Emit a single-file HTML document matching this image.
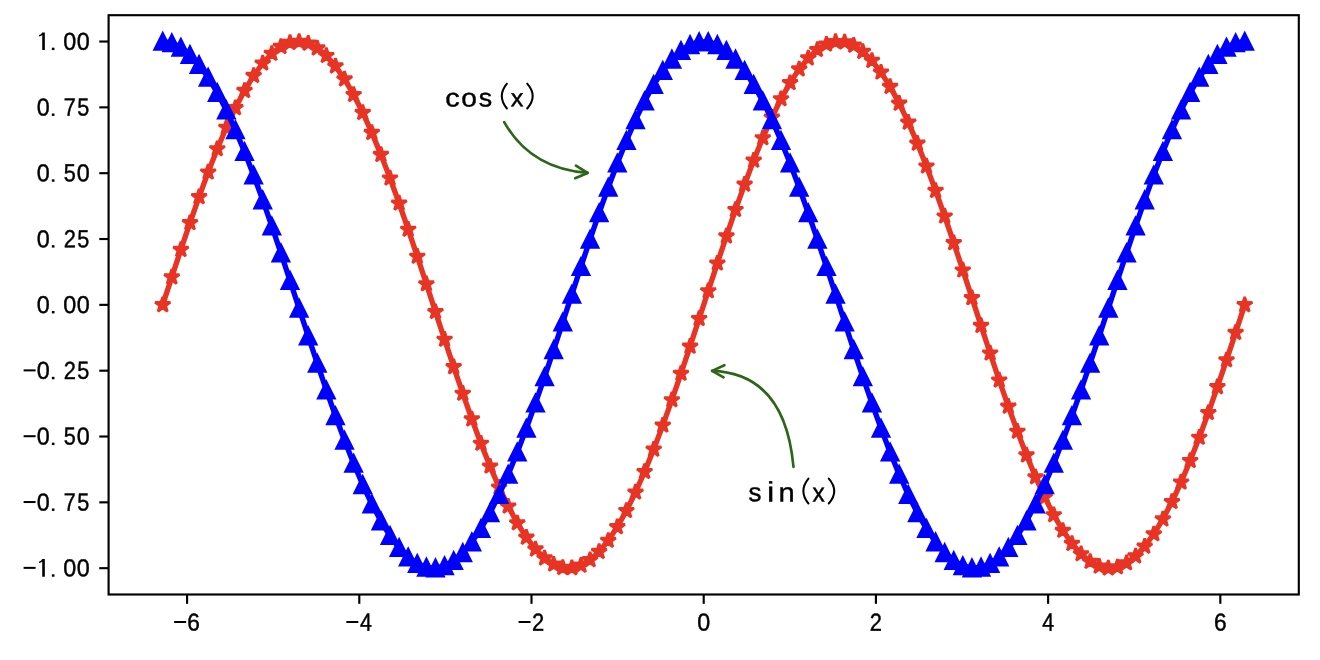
<!DOCTYPE html><html><head><meta charset="utf-8"><title>sin and cos</title><style>html,body{margin:0;padding:0;background:#fff;overflow:hidden}svg{display:block}text{font-family:"Liberation Sans",sans-serif}</style></head><body>
<svg style="will-change:transform" width="1320" height="660" viewBox="0 0 1320 660">
<rect width="1320" height="660" fill="#fff"/>
<defs>
<path id="st" d="M0.000,-8.000 L-1.796,-2.472 L-7.608,-2.472 L-2.906,0.944 L-4.702,6.472 L-0.000,3.056 L4.702,6.472 L2.906,0.944 L7.608,-2.472 L1.796,-2.472 Z" fill="#e83424" stroke="#e83424" stroke-width="2.667" stroke-linejoin="bevel"/>
<path id="tr" d="M0.000,-8.000 L-8.000,8.000 L8.000,8.000 Z" fill="#0000ff" stroke="#0000ff" stroke-width="2.667" stroke-linejoin="miter"/>
</defs>
<polyline points="162.70,304.85 171.79,277.10 180.88,249.65 189.98,222.82 199.07,196.90 208.16,172.19 217.25,148.95 226.35,127.45 235.44,107.93 244.53,90.60 253.62,75.66 262.72,63.27 271.81,53.57 280.90,46.68 289.99,42.66 299.09,41.55 308.18,43.39 317.27,48.13 326.36,55.74 335.46,66.12 344.55,79.16 353.64,94.72 362.73,112.61 371.83,132.65 380.92,154.61 390.01,178.24 399.10,203.28 408.20,229.45 417.29,256.47 426.38,284.02 435.47,311.80 444.57,339.51 453.66,366.83 462.75,393.46 471.84,419.10 480.94,443.47 490.03,466.29 499.12,487.32 508.21,506.31 517.30,523.06 526.40,537.38 535.49,549.11 544.58,558.12 553.67,564.30 562.77,567.59 571.86,567.96 580.95,565.40 590.04,559.93 599.14,551.62 608.23,540.56 617.32,526.88 626.41,510.72 635.51,492.27 644.60,471.73 653.69,449.33 662.78,425.32 671.88,399.97 680.97,373.56 690.06,346.39 699.15,318.75 708.25,290.95 717.34,263.31 726.43,236.14 735.52,209.73 744.62,184.38 753.71,160.37 762.80,137.97 771.89,117.43 780.99,98.98 790.08,82.82 799.17,69.14 808.26,58.08 817.36,49.77 826.45,44.30 835.54,41.74 844.63,42.11 853.73,45.40 862.82,51.58 871.91,60.59 881.00,72.32 890.10,86.64 899.19,103.39 908.28,122.38 917.37,143.41 926.46,166.23 935.56,190.60 944.65,216.24 953.74,242.87 962.83,270.19 971.93,297.90 981.02,325.68 990.11,353.23 999.20,380.25 1008.30,406.42 1017.39,431.46 1026.48,455.09 1035.57,477.05 1044.67,497.09 1053.76,514.98 1062.85,530.54 1071.94,543.58 1081.04,553.96 1090.13,561.57 1099.22,566.31 1108.31,568.15 1117.41,567.04 1126.50,563.02 1135.59,556.13 1144.68,546.43 1153.78,534.04 1162.87,519.10 1171.96,501.77 1181.05,482.25 1190.15,460.75 1199.24,437.51 1208.33,412.80 1217.42,386.88 1226.52,360.05 1235.61,332.60 1244.70,304.85" fill="none" stroke="#e83424" stroke-width="5.333" stroke-linejoin="round" stroke-linecap="square"/>
<g><use href="#st" x="162.70" y="304.85"/><use href="#st" x="171.79" y="277.10"/><use href="#st" x="180.88" y="249.65"/><use href="#st" x="189.98" y="222.82"/><use href="#st" x="199.07" y="196.90"/><use href="#st" x="208.16" y="172.19"/><use href="#st" x="217.25" y="148.95"/><use href="#st" x="226.35" y="127.45"/><use href="#st" x="235.44" y="107.93"/><use href="#st" x="244.53" y="90.60"/><use href="#st" x="253.62" y="75.66"/><use href="#st" x="262.72" y="63.27"/><use href="#st" x="271.81" y="53.57"/><use href="#st" x="280.90" y="46.68"/><use href="#st" x="289.99" y="42.66"/><use href="#st" x="299.09" y="41.55"/><use href="#st" x="308.18" y="43.39"/><use href="#st" x="317.27" y="48.13"/><use href="#st" x="326.36" y="55.74"/><use href="#st" x="335.46" y="66.12"/><use href="#st" x="344.55" y="79.16"/><use href="#st" x="353.64" y="94.72"/><use href="#st" x="362.73" y="112.61"/><use href="#st" x="371.83" y="132.65"/><use href="#st" x="380.92" y="154.61"/><use href="#st" x="390.01" y="178.24"/><use href="#st" x="399.10" y="203.28"/><use href="#st" x="408.20" y="229.45"/><use href="#st" x="417.29" y="256.47"/><use href="#st" x="426.38" y="284.02"/><use href="#st" x="435.47" y="311.80"/><use href="#st" x="444.57" y="339.51"/><use href="#st" x="453.66" y="366.83"/><use href="#st" x="462.75" y="393.46"/><use href="#st" x="471.84" y="419.10"/><use href="#st" x="480.94" y="443.47"/><use href="#st" x="490.03" y="466.29"/><use href="#st" x="499.12" y="487.32"/><use href="#st" x="508.21" y="506.31"/><use href="#st" x="517.30" y="523.06"/><use href="#st" x="526.40" y="537.38"/><use href="#st" x="535.49" y="549.11"/><use href="#st" x="544.58" y="558.12"/><use href="#st" x="553.67" y="564.30"/><use href="#st" x="562.77" y="567.59"/><use href="#st" x="571.86" y="567.96"/><use href="#st" x="580.95" y="565.40"/><use href="#st" x="590.04" y="559.93"/><use href="#st" x="599.14" y="551.62"/><use href="#st" x="608.23" y="540.56"/><use href="#st" x="617.32" y="526.88"/><use href="#st" x="626.41" y="510.72"/><use href="#st" x="635.51" y="492.27"/><use href="#st" x="644.60" y="471.73"/><use href="#st" x="653.69" y="449.33"/><use href="#st" x="662.78" y="425.32"/><use href="#st" x="671.88" y="399.97"/><use href="#st" x="680.97" y="373.56"/><use href="#st" x="690.06" y="346.39"/><use href="#st" x="699.15" y="318.75"/><use href="#st" x="708.25" y="290.95"/><use href="#st" x="717.34" y="263.31"/><use href="#st" x="726.43" y="236.14"/><use href="#st" x="735.52" y="209.73"/><use href="#st" x="744.62" y="184.38"/><use href="#st" x="753.71" y="160.37"/><use href="#st" x="762.80" y="137.97"/><use href="#st" x="771.89" y="117.43"/><use href="#st" x="780.99" y="98.98"/><use href="#st" x="790.08" y="82.82"/><use href="#st" x="799.17" y="69.14"/><use href="#st" x="808.26" y="58.08"/><use href="#st" x="817.36" y="49.77"/><use href="#st" x="826.45" y="44.30"/><use href="#st" x="835.54" y="41.74"/><use href="#st" x="844.63" y="42.11"/><use href="#st" x="853.73" y="45.40"/><use href="#st" x="862.82" y="51.58"/><use href="#st" x="871.91" y="60.59"/><use href="#st" x="881.00" y="72.32"/><use href="#st" x="890.10" y="86.64"/><use href="#st" x="899.19" y="103.39"/><use href="#st" x="908.28" y="122.38"/><use href="#st" x="917.37" y="143.41"/><use href="#st" x="926.46" y="166.23"/><use href="#st" x="935.56" y="190.60"/><use href="#st" x="944.65" y="216.24"/><use href="#st" x="953.74" y="242.87"/><use href="#st" x="962.83" y="270.19"/><use href="#st" x="971.93" y="297.90"/><use href="#st" x="981.02" y="325.68"/><use href="#st" x="990.11" y="353.23"/><use href="#st" x="999.20" y="380.25"/><use href="#st" x="1008.30" y="406.42"/><use href="#st" x="1017.39" y="431.46"/><use href="#st" x="1026.48" y="455.09"/><use href="#st" x="1035.57" y="477.05"/><use href="#st" x="1044.67" y="497.09"/><use href="#st" x="1053.76" y="514.98"/><use href="#st" x="1062.85" y="530.54"/><use href="#st" x="1071.94" y="543.58"/><use href="#st" x="1081.04" y="553.96"/><use href="#st" x="1090.13" y="561.57"/><use href="#st" x="1099.22" y="566.31"/><use href="#st" x="1108.31" y="568.15"/><use href="#st" x="1117.41" y="567.04"/><use href="#st" x="1126.50" y="563.02"/><use href="#st" x="1135.59" y="556.13"/><use href="#st" x="1144.68" y="546.43"/><use href="#st" x="1153.78" y="534.04"/><use href="#st" x="1162.87" y="519.10"/><use href="#st" x="1171.96" y="501.77"/><use href="#st" x="1181.05" y="482.25"/><use href="#st" x="1190.15" y="460.75"/><use href="#st" x="1199.24" y="437.51"/><use href="#st" x="1208.33" y="412.80"/><use href="#st" x="1217.42" y="386.88"/><use href="#st" x="1226.52" y="360.05"/><use href="#st" x="1235.61" y="332.60"/><use href="#st" x="1244.70" y="304.85"/></g>
<polyline points="162.70,41.53 171.79,43.00 180.88,47.38 189.98,54.64 199.07,64.68 208.16,77.39 217.25,92.64 226.35,110.26 235.44,130.04 244.53,151.77 253.62,175.20 262.72,200.08 271.81,226.13 280.90,253.05 289.99,280.55 299.09,308.33 308.18,336.06 317.27,363.44 326.36,390.18 335.46,415.96 344.55,440.50 353.64,463.53 362.73,484.80 371.83,504.06 380.92,521.10 390.01,535.73 399.10,547.79 408.20,557.14 417.29,563.68 426.38,567.34 435.47,568.08 444.57,565.88 453.66,560.77 462.75,552.81 471.84,542.09 480.94,528.73 490.03,512.87 499.12,494.69 508.21,474.40 517.30,452.22 526.40,428.40 535.49,403.20 544.58,376.91 553.67,349.81 562.77,322.22 571.86,294.43 580.95,266.75 590.04,239.50 599.14,212.98 608.23,187.48 617.32,163.29 626.41,140.67 635.51,119.89 644.60,101.16 653.69,84.71 662.78,70.71 671.88,59.31 680.97,50.65 690.06,44.83 699.15,41.90 708.25,41.90 717.34,44.83 726.43,50.65 735.52,59.31 744.62,70.71 753.71,84.71 762.80,101.16 771.89,119.89 780.99,140.67 790.08,163.29 799.17,187.48 808.26,212.98 817.36,239.50 826.45,266.75 835.54,294.43 844.63,322.22 853.73,349.81 862.82,376.91 871.91,403.20 881.00,428.40 890.10,452.22 899.19,474.40 908.28,494.69 917.37,512.87 926.46,528.73 935.56,542.09 944.65,552.81 953.74,560.77 962.83,565.88 971.93,568.08 981.02,567.34 990.11,563.68 999.20,557.14 1008.30,547.79 1017.39,535.73 1026.48,521.10 1035.57,504.06 1044.67,484.80 1053.76,463.53 1062.85,440.50 1071.94,415.96 1081.04,390.18 1090.13,363.44 1099.22,336.06 1108.31,308.33 1117.41,280.55 1126.50,253.05 1135.59,226.13 1144.68,200.08 1153.78,175.20 1162.87,151.77 1171.96,130.04 1181.05,110.26 1190.15,92.64 1199.24,77.39 1208.33,64.68 1217.42,54.64 1226.52,47.38 1235.61,43.00 1244.70,41.53" fill="none" stroke="#0000ff" stroke-width="5.333" stroke-linejoin="round" stroke-linecap="square"/>
<g><use href="#tr" x="162.70" y="41.53"/><use href="#tr" x="171.79" y="43.00"/><use href="#tr" x="180.88" y="47.38"/><use href="#tr" x="189.98" y="54.64"/><use href="#tr" x="199.07" y="64.68"/><use href="#tr" x="208.16" y="77.39"/><use href="#tr" x="217.25" y="92.64"/><use href="#tr" x="226.35" y="110.26"/><use href="#tr" x="235.44" y="130.04"/><use href="#tr" x="244.53" y="151.77"/><use href="#tr" x="253.62" y="175.20"/><use href="#tr" x="262.72" y="200.08"/><use href="#tr" x="271.81" y="226.13"/><use href="#tr" x="280.90" y="253.05"/><use href="#tr" x="289.99" y="280.55"/><use href="#tr" x="299.09" y="308.33"/><use href="#tr" x="308.18" y="336.06"/><use href="#tr" x="317.27" y="363.44"/><use href="#tr" x="326.36" y="390.18"/><use href="#tr" x="335.46" y="415.96"/><use href="#tr" x="344.55" y="440.50"/><use href="#tr" x="353.64" y="463.53"/><use href="#tr" x="362.73" y="484.80"/><use href="#tr" x="371.83" y="504.06"/><use href="#tr" x="380.92" y="521.10"/><use href="#tr" x="390.01" y="535.73"/><use href="#tr" x="399.10" y="547.79"/><use href="#tr" x="408.20" y="557.14"/><use href="#tr" x="417.29" y="563.68"/><use href="#tr" x="426.38" y="567.34"/><use href="#tr" x="435.47" y="568.08"/><use href="#tr" x="444.57" y="565.88"/><use href="#tr" x="453.66" y="560.77"/><use href="#tr" x="462.75" y="552.81"/><use href="#tr" x="471.84" y="542.09"/><use href="#tr" x="480.94" y="528.73"/><use href="#tr" x="490.03" y="512.87"/><use href="#tr" x="499.12" y="494.69"/><use href="#tr" x="508.21" y="474.40"/><use href="#tr" x="517.30" y="452.22"/><use href="#tr" x="526.40" y="428.40"/><use href="#tr" x="535.49" y="403.20"/><use href="#tr" x="544.58" y="376.91"/><use href="#tr" x="553.67" y="349.81"/><use href="#tr" x="562.77" y="322.22"/><use href="#tr" x="571.86" y="294.43"/><use href="#tr" x="580.95" y="266.75"/><use href="#tr" x="590.04" y="239.50"/><use href="#tr" x="599.14" y="212.98"/><use href="#tr" x="608.23" y="187.48"/><use href="#tr" x="617.32" y="163.29"/><use href="#tr" x="626.41" y="140.67"/><use href="#tr" x="635.51" y="119.89"/><use href="#tr" x="644.60" y="101.16"/><use href="#tr" x="653.69" y="84.71"/><use href="#tr" x="662.78" y="70.71"/><use href="#tr" x="671.88" y="59.31"/><use href="#tr" x="680.97" y="50.65"/><use href="#tr" x="690.06" y="44.83"/><use href="#tr" x="699.15" y="41.90"/><use href="#tr" x="708.25" y="41.90"/><use href="#tr" x="717.34" y="44.83"/><use href="#tr" x="726.43" y="50.65"/><use href="#tr" x="735.52" y="59.31"/><use href="#tr" x="744.62" y="70.71"/><use href="#tr" x="753.71" y="84.71"/><use href="#tr" x="762.80" y="101.16"/><use href="#tr" x="771.89" y="119.89"/><use href="#tr" x="780.99" y="140.67"/><use href="#tr" x="790.08" y="163.29"/><use href="#tr" x="799.17" y="187.48"/><use href="#tr" x="808.26" y="212.98"/><use href="#tr" x="817.36" y="239.50"/><use href="#tr" x="826.45" y="266.75"/><use href="#tr" x="835.54" y="294.43"/><use href="#tr" x="844.63" y="322.22"/><use href="#tr" x="853.73" y="349.81"/><use href="#tr" x="862.82" y="376.91"/><use href="#tr" x="871.91" y="403.20"/><use href="#tr" x="881.00" y="428.40"/><use href="#tr" x="890.10" y="452.22"/><use href="#tr" x="899.19" y="474.40"/><use href="#tr" x="908.28" y="494.69"/><use href="#tr" x="917.37" y="512.87"/><use href="#tr" x="926.46" y="528.73"/><use href="#tr" x="935.56" y="542.09"/><use href="#tr" x="944.65" y="552.81"/><use href="#tr" x="953.74" y="560.77"/><use href="#tr" x="962.83" y="565.88"/><use href="#tr" x="971.93" y="568.08"/><use href="#tr" x="981.02" y="567.34"/><use href="#tr" x="990.11" y="563.68"/><use href="#tr" x="999.20" y="557.14"/><use href="#tr" x="1008.30" y="547.79"/><use href="#tr" x="1017.39" y="535.73"/><use href="#tr" x="1026.48" y="521.10"/><use href="#tr" x="1035.57" y="504.06"/><use href="#tr" x="1044.67" y="484.80"/><use href="#tr" x="1053.76" y="463.53"/><use href="#tr" x="1062.85" y="440.50"/><use href="#tr" x="1071.94" y="415.96"/><use href="#tr" x="1081.04" y="390.18"/><use href="#tr" x="1090.13" y="363.44"/><use href="#tr" x="1099.22" y="336.06"/><use href="#tr" x="1108.31" y="308.33"/><use href="#tr" x="1117.41" y="280.55"/><use href="#tr" x="1126.50" y="253.05"/><use href="#tr" x="1135.59" y="226.13"/><use href="#tr" x="1144.68" y="200.08"/><use href="#tr" x="1153.78" y="175.20"/><use href="#tr" x="1162.87" y="151.77"/><use href="#tr" x="1171.96" y="130.04"/><use href="#tr" x="1181.05" y="110.26"/><use href="#tr" x="1190.15" y="92.64"/><use href="#tr" x="1199.24" y="77.39"/><use href="#tr" x="1208.33" y="64.68"/><use href="#tr" x="1217.42" y="54.64"/><use href="#tr" x="1226.52" y="47.38"/><use href="#tr" x="1235.61" y="43.00"/><use href="#tr" x="1244.70" y="41.53"/></g>
<rect x="108.6" y="15.2" width="1190.2" height="579.3" fill="none" stroke="#000" stroke-width="2.133" stroke-linejoin="miter"/>
<line x1="187.08" y1="594.5" x2="187.08" y2="603.83" stroke="#000" stroke-width="2.133"/>
<line x1="359.29" y1="594.5" x2="359.29" y2="603.83" stroke="#000" stroke-width="2.133"/>
<line x1="531.49" y1="594.5" x2="531.49" y2="603.83" stroke="#000" stroke-width="2.133"/>
<line x1="703.70" y1="594.5" x2="703.70" y2="603.83" stroke="#000" stroke-width="2.133"/>
<line x1="875.91" y1="594.5" x2="875.91" y2="603.83" stroke="#000" stroke-width="2.133"/>
<line x1="1048.11" y1="594.5" x2="1048.11" y2="603.83" stroke="#000" stroke-width="2.133"/>
<line x1="1220.32" y1="594.5" x2="1220.32" y2="603.83" stroke="#000" stroke-width="2.133"/>
<line x1="99.27" y1="41.53" x2="108.6" y2="41.53" stroke="#000" stroke-width="2.133"/>
<line x1="99.27" y1="107.36" x2="108.6" y2="107.36" stroke="#000" stroke-width="2.133"/>
<line x1="99.27" y1="173.19" x2="108.6" y2="173.19" stroke="#000" stroke-width="2.133"/>
<line x1="99.27" y1="239.02" x2="108.6" y2="239.02" stroke="#000" stroke-width="2.133"/>
<line x1="99.27" y1="304.85" x2="108.6" y2="304.85" stroke="#000" stroke-width="2.133"/>
<line x1="99.27" y1="370.68" x2="108.6" y2="370.68" stroke="#000" stroke-width="2.133"/>
<line x1="99.27" y1="436.51" x2="108.6" y2="436.51" stroke="#000" stroke-width="2.133"/>
<line x1="99.27" y1="502.34" x2="108.6" y2="502.34" stroke="#000" stroke-width="2.133"/>
<line x1="99.27" y1="568.17" x2="108.6" y2="568.17" stroke="#000" stroke-width="2.133"/>
<path d="M42.23,32.38 L44.83,32.38 L44.83,50.08 L42.23,50.08 L42.23,34.98 Q41.23,36.08 38.98,36.38 L38.98,35.08 Q41.33,34.68 42.23,32.38 Z" fill="#000"/><rect x="51.86" y="47.68" width="2.6" height="2.4" fill="#000"/><text transform="matrix(0.2343 0.0005 0.0005 0.2443 63.340 49.643)" font-size="100" fill="#000" stroke="#000" stroke-width="1.671">0</text><text transform="matrix(0.2343 0.0005 0.0005 0.2443 76.670 49.643)" font-size="100" fill="#000" stroke="#000" stroke-width="1.671">0</text>
<text transform="matrix(0.2343 0.0005 0.0005 0.2443 36.680 115.473)" font-size="100" fill="#000" stroke="#000" stroke-width="1.671">0</text><rect x="51.86" y="113.51" width="2.6" height="2.4" fill="#000"/><text transform="matrix(0.2156 0.0005 0.0005 0.2515 63.850 115.711)" font-size="100" fill="#000" stroke="#000" stroke-width="1.713">7</text><text transform="matrix(0.2172 0.0005 0.0005 0.2479 77.165 115.469)" font-size="100" fill="#000" stroke="#000" stroke-width="1.720">5</text>
<text transform="matrix(0.2343 0.0005 0.0005 0.2443 36.680 181.302)" font-size="100" fill="#000" stroke="#000" stroke-width="1.671">0</text><rect x="51.86" y="179.34" width="2.6" height="2.4" fill="#000"/><text transform="matrix(0.2172 0.0005 0.0005 0.2479 63.835 181.299)" font-size="100" fill="#000" stroke="#000" stroke-width="1.720">5</text><text transform="matrix(0.2343 0.0005 0.0005 0.2443 76.670 181.302)" font-size="100" fill="#000" stroke="#000" stroke-width="1.671">0</text>
<text transform="matrix(0.2343 0.0005 0.0005 0.2443 36.680 247.132)" font-size="100" fill="#000" stroke="#000" stroke-width="1.671">0</text><rect x="51.86" y="245.17" width="2.6" height="2.4" fill="#000"/><text transform="matrix(0.2195 0.0005 0.0005 0.2478 63.751 247.370)" font-size="100" fill="#000" stroke="#000" stroke-width="1.712">2</text><text transform="matrix(0.2172 0.0005 0.0005 0.2479 77.165 247.128)" font-size="100" fill="#000" stroke="#000" stroke-width="1.720">5</text>
<text transform="matrix(0.2343 0.0005 0.0005 0.2443 36.680 312.961)" font-size="100" fill="#000" stroke="#000" stroke-width="1.671">0</text><rect x="51.86" y="311.00" width="2.6" height="2.4" fill="#000"/><text transform="matrix(0.2343 0.0005 0.0005 0.2443 63.340 312.961)" font-size="100" fill="#000" stroke="#000" stroke-width="1.671">0</text><text transform="matrix(0.2343 0.0005 0.0005 0.2443 76.670 312.961)" font-size="100" fill="#000" stroke="#000" stroke-width="1.671">0</text>
<rect x="23.60" y="369.38" width="12.0" height="2.0" fill="#000"/><text transform="matrix(0.2343 0.0005 0.0005 0.2443 36.680 378.791)" font-size="100" fill="#000" stroke="#000" stroke-width="1.671">0</text><rect x="51.86" y="376.83" width="2.6" height="2.4" fill="#000"/><text transform="matrix(0.2195 0.0005 0.0005 0.2478 63.751 379.030)" font-size="100" fill="#000" stroke="#000" stroke-width="1.712">2</text><text transform="matrix(0.2172 0.0005 0.0005 0.2479 77.165 378.787)" font-size="100" fill="#000" stroke="#000" stroke-width="1.720">5</text>
<rect x="23.60" y="435.21" width="12.0" height="2.0" fill="#000"/><text transform="matrix(0.2343 0.0005 0.0005 0.2443 36.680 444.620)" font-size="100" fill="#000" stroke="#000" stroke-width="1.671">0</text><rect x="51.86" y="442.66" width="2.6" height="2.4" fill="#000"/><text transform="matrix(0.2172 0.0005 0.0005 0.2479 63.835 444.617)" font-size="100" fill="#000" stroke="#000" stroke-width="1.720">5</text><text transform="matrix(0.2343 0.0005 0.0005 0.2443 76.670 444.620)" font-size="100" fill="#000" stroke="#000" stroke-width="1.671">0</text>
<rect x="23.60" y="501.04" width="12.0" height="2.0" fill="#000"/><text transform="matrix(0.2343 0.0005 0.0005 0.2443 36.680 510.450)" font-size="100" fill="#000" stroke="#000" stroke-width="1.671">0</text><rect x="51.86" y="508.49" width="2.6" height="2.4" fill="#000"/><text transform="matrix(0.2156 0.0005 0.0005 0.2515 63.850 510.689)" font-size="100" fill="#000" stroke="#000" stroke-width="1.713">7</text><text transform="matrix(0.2172 0.0005 0.0005 0.2479 77.165 510.447)" font-size="100" fill="#000" stroke="#000" stroke-width="1.720">5</text>
<rect x="23.60" y="566.87" width="12.0" height="2.0" fill="#000"/><path d="M42.23,559.02 L44.83,559.02 L44.83,576.72 L42.23,576.72 L42.23,561.62 Q41.23,562.72 38.98,563.02 L38.98,561.72 Q41.33,561.32 42.23,559.02 Z" fill="#000"/><rect x="51.86" y="574.32" width="2.6" height="2.4" fill="#000"/><text transform="matrix(0.2343 0.0005 0.0005 0.2443 63.340 576.280)" font-size="100" fill="#000" stroke="#000" stroke-width="1.671">0</text><text transform="matrix(0.2343 0.0005 0.0005 0.2443 76.670 576.280)" font-size="100" fill="#000" stroke="#000" stroke-width="1.671">0</text>
<rect x="174.15" y="621.00" width="12.0" height="2.0" fill="#000"/><text transform="matrix(0.2276 0.0005 0.0005 0.2443 187.342 630.411)" font-size="100" fill="#000" stroke="#000" stroke-width="1.695">6</text>
<rect x="346.36" y="621.00" width="12.0" height="2.0" fill="#000"/><text transform="matrix(0.2143 0.0005 0.0005 0.2515 360.062 630.650)" font-size="100" fill="#000" stroke="#000" stroke-width="1.718">4</text>
<rect x="518.56" y="621.00" width="12.0" height="2.0" fill="#000"/><text transform="matrix(0.2195 0.0005 0.0005 0.2478 532.055 630.650)" font-size="100" fill="#000" stroke="#000" stroke-width="1.712">2</text>
<text transform="matrix(0.2343 0.0005 0.0005 0.2443 697.185 630.411)" font-size="100" fill="#000" stroke="#000" stroke-width="1.671">0</text>
<text transform="matrix(0.2195 0.0005 0.0005 0.2478 869.802 630.650)" font-size="100" fill="#000" stroke="#000" stroke-width="1.712">2</text>
<text transform="matrix(0.2143 0.0005 0.0005 0.2515 1042.220 630.650)" font-size="100" fill="#000" stroke="#000" stroke-width="1.718">4</text>
<text transform="matrix(0.2276 0.0005 0.0005 0.2443 1213.912 630.411)" font-size="100" fill="#000" stroke="#000" stroke-width="1.695">6</text>
<text transform="matrix(0.2899 0.0005 0.0005 0.2555 445.368 106.450)" font-size="100" fill="#000" stroke="#000" stroke-width="1.467">c</text>
<text transform="matrix(0.2817 0.0005 0.0005 0.2555 461.317 106.450)" font-size="100" fill="#000" stroke="#000" stroke-width="1.489">o</text>
<text transform="matrix(0.2683 0.0005 0.0005 0.2562 478.853 106.450)" font-size="100" fill="#000" stroke="#000" stroke-width="1.525">s</text>
<text transform="matrix(0.2531 0.0005 0.0005 0.2480 510.716 106.300)" font-size="100" fill="#000" stroke="#000" stroke-width="1.597">x</text>
<text transform="matrix(0.2592 0.0005 0.0005 0.2635 748.379 501.343)" font-size="100" fill="#000" stroke="#000" stroke-width="1.531">s</text>
<text transform="matrix(0.3300 0.0005 0.0005 0.2802 766.893 501.500)" font-size="100" fill="#000" stroke="#000" stroke-width="1.311">i</text>
<text transform="matrix(0.2919 0.0005 0.0005 0.2658 778.462 501.500)" font-size="100" fill="#000" stroke="#000" stroke-width="1.435">n</text>
<text transform="matrix(0.2448 0.0005 0.0005 0.2612 812.525 501.500)" font-size="100" fill="#000" stroke="#000" stroke-width="1.581">x</text>
<path d="M506.90,83.65 Q496.70,96.08 506.90,108.50" fill="none" stroke="#000" stroke-width="2.0" stroke-linecap="round"/>
<path d="M527.20,83.65 Q538.20,96.08 527.20,108.50" fill="none" stroke="#000" stroke-width="2.0" stroke-linecap="round"/>
<path d="M808.45,478.60 Q798.25,491.05 808.45,503.50" fill="none" stroke="#000" stroke-width="2.0" stroke-linecap="round"/>
<path d="M828.75,478.60 Q839.75,491.05 828.75,503.50" fill="none" stroke="#000" stroke-width="2.0" stroke-linecap="round"/>
<path d="M504.2,122.2 Q530.81,168.92 587.6,172.9" fill="none" stroke="#2b6619" stroke-width="2.667" stroke-linecap="round"/>
<path d="M575.93,165.6 L587.6,172.9 L575.22,178.18" fill="none" stroke="#2b6619" stroke-width="2.667" stroke-linejoin="round" stroke-linecap="round"/>
<path d="M793.5,467.0 Q784.89,373.43 712.1,370.9" fill="none" stroke="#2b6619" stroke-width="2.667" stroke-linecap="round"/>
<path d="M724.39,365.25 L712.1,370.9 L723.54,377.35" fill="none" stroke="#2b6619" stroke-width="2.667" stroke-linejoin="round" stroke-linecap="round"/>
</svg></body></html>
